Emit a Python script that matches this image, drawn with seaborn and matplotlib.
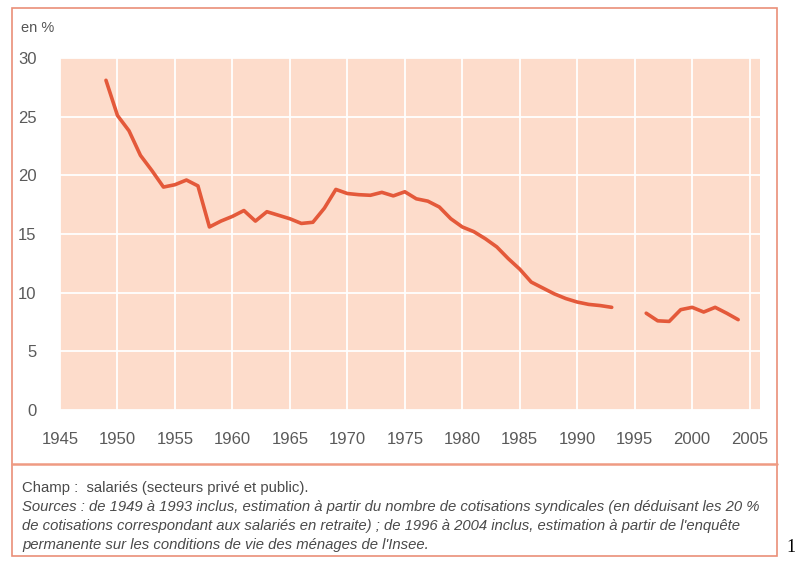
import matplotlib
matplotlib.use('Agg')
import matplotlib.pyplot as plt
from matplotlib.patches import Rectangle
from matplotlib.lines import Line2D
import seaborn as sns
import pandas as pd

# taux de syndicalisation (en %)
years_1 = list(range(1949, 1994))
rate_1 = [28.1, 25.1, 23.8, 21.7, 20.4, 19.0, 19.2, 19.6, 19.1, 15.6,
          16.1, 16.5, 17.0, 16.1, 16.9, 16.6, 16.3, 15.9, 16.0, 17.2,
          18.8, 18.45, 18.35, 18.3, 18.55, 18.25, 18.6, 18.0, 17.8, 17.3,
          16.3, 15.6, 15.2, 14.6, 13.9, 12.9, 12.0, 10.9, 10.4, 9.9,
          9.5, 9.2, 9.0, 8.9, 8.75]
years_2 = list(range(1996, 2005))
rate_2 = [8.25, 7.6, 7.55, 8.55, 8.75, 8.35, 8.75, 8.25, 7.7]

x_ticks = list(range(1945, 2006, 5))
y_ticks = list(range(0, 31, 5))

note_lines = [
    "Champ :  salariés (secteurs privé et public).",
    "Sources : de 1949 à 1993 inclus, estimation à partir du nombre de cotisations syndicales (en déduisant les 20 %",
    "de cotisations correspondant aux salariés en retraite) ; de 1996 à 2004 inclus, estimation à partir de l'enquête",
    "permanente sur les conditions de vie des ménages de l'Insee.",
]

df = pd.concat([
    pd.DataFrame({'annee': years_1, 'taux': rate_1, 'serie': 'cotisations'}),
    pd.DataFrame({'annee': years_2, 'taux': rate_2, 'serie': 'enquete'}),
], ignore_index=True)

sns.set_theme(style='white')
fonts = ['Liberation Sans Narrow', 'Liberation Sans', 'DejaVu Sans']
plt.rcParams['font.family'] = fonts

fig = plt.figure(figsize=(7.98, 5.62), dpi=100)
ax = fig.add_axes([60 / 798, 1 - 410 / 562, 700 / 798, 352 / 562])
ax.set_facecolor('#fddccb')

sns.lineplot(data=df, x='annee', y='taux', units='serie', estimator=None,
             color='#e4593a', linewidth=2.6, ax=ax)

ax.set_xlim(1945, 2005.9)
ax.set_ylim(0, 30)
ax.set_xticks(x_ticks)
ax.set_yticks(y_ticks)
ax.grid(True, color='white', linewidth=1.3)
for s in ax.spines.values():
    s.set_visible(False)
ax.tick_params(axis='both', length=0, labelsize=12, labelcolor='#5a5a5a')
ax.tick_params(axis='x', pad=16)
ax.tick_params(axis='y', pad=17)
ax.set_xlabel('')
ax.set_ylabel('')

fig.text(21 / 798, 1 - 28 / 562, 'en %', fontsize=10.5, color='#555555',
         va='center', ha='left')

# cadre et séparateur
frame_color = '#ea8f78'
fig.patches.append(Rectangle((12 / 798, 1 - 556 / 562), 765 / 798, 548 / 562,
                             transform=fig.transFigure, fill=False,
                             edgecolor=frame_color, linewidth=1.2))
fig.lines.append(Line2D([12 / 798, 777 / 798], [1 - 464 / 562, 1 - 464 / 562],
                        transform=fig.transFigure, color='#ef9b82', linewidth=1.8))

ys = [488, 507, 526, 545]
for i, (txt, y) in enumerate(zip(note_lines, ys)):
    fig.text(22 / 798, 1 - y / 562, txt, fontsize=10.7, color='#4a4a4a',
             style='normal' if i == 0 else 'italic', va='center', ha='left')

fig.text(786 / 798, 1 - 548 / 562, '1', fontsize=13, color='black',
         family=['Liberation Serif', 'DejaVu Serif'], va='center', ha='left')

fig.savefig('out.png', dpi=100)
